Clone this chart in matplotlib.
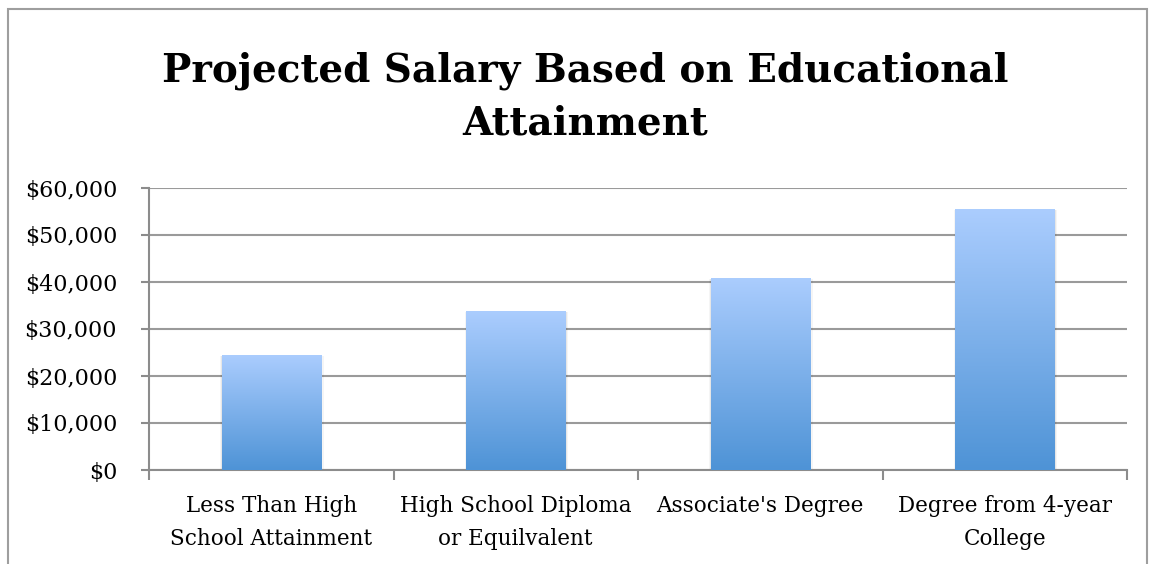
import numpy as np
import matplotlib
matplotlib.use("Agg")
import matplotlib.pyplot as plt
from matplotlib.patches import Rectangle
from matplotlib.ticker import FuncFormatter, FixedLocator

# --- data ---
categories = ["Less Than High\nSchool Attainment",
              "High School Diploma\nor Equilvalent",
              "Associate's Degree",
              "Degree from 4-year\nCollege"]
salaries = [24500, 33800, 40900, 55500]
title = "Projected Salary Based on Educational\nAttainment"

plt.rcParams['font.family'] = ['DejaVu Serif']
W, H = 1158, 564
fig = plt.figure(figsize=(W / 100, H / 100), dpi=100, facecolor='w')
ax = fig.add_axes([149 / W, 1 - 470 / H, (1127 - 149) / W, (470 - 188) / H])

x = np.arange(len(categories))
bars = ax.bar(x, salaries, width=0.405, color='none', zorder=3)

# vertical gradient fill clipped to each bar
grad = np.linspace(0, 1, 256).reshape(-1, 1)
cmap = matplotlib.colors.LinearSegmentedColormap.from_list('g', ['#4e93d6', '#abcdfe'])
for b in bars:
    x0, w, h = b.get_x(), b.get_width(), b.get_height()
    # soft shadow
    for k, a in [(0.006, 0.06), (0.012, 0.04)]:
        ax.add_patch(Rectangle((x0 - k / 2, -400), w + k * 1.5, h + 200,
                               facecolor='#000000', alpha=a, edgecolor='none', zorder=2))
    im = ax.imshow(grad, extent=(x0, x0 + w, 0, h), origin='lower', cmap=cmap,
                   aspect='auto', zorder=3)
    im.set_clip_path(b)

ax.set_xlim(-0.5, len(categories) - 0.5)
ax.set_ylim(0, 60000)
ax.set_yticks(np.arange(0, 60001, 10000))
ax.yaxis.set_major_formatter(FuncFormatter(lambda v, p: f"${v:,.0f}"))
ax.grid(axis='y', color='#9a9a9a', linewidth=1.5, zorder=1)

ax.xaxis.set_major_locator(FixedLocator(np.arange(-0.5, len(categories), 1.0)))
ax.xaxis.set_minor_locator(FixedLocator(x))
ax.set_xticklabels([])
ax.set_xticklabels(categories, minor=True, fontsize=15.5, linespacing=1.65)
ax.tick_params(axis='x', which='major', length=7, width=1.5, color='#8c8c8c')
ax.tick_params(axis='x', which='minor', length=0, pad=18)
ax.tick_params(axis='y', length=6, width=1.5, color='#8c8c8c', labelsize=16, pad=17)

for s in ['top', 'right']:
    ax.spines[s].set_visible(False)
for s in ['left', 'bottom']:
    ax.spines[s].set_color('#8c8c8c')
    ax.spines[s].set_linewidth(1.5)

fig.text(585 / W, 1 - 97 / H, title, ha='center', va='center', fontsize=28,
         fontweight='bold', linespacing=1.5)

# outer chart border
fig.patches.append(Rectangle((8 / W, -0.05), (1147 - 8) / W, 1 - 9 / H + 0.05,
                             transform=fig.transFigure, fill=False,
                             edgecolor='#9e9e9e', linewidth=1.5))

fig.savefig("out.png", dpi=100, facecolor='w')
